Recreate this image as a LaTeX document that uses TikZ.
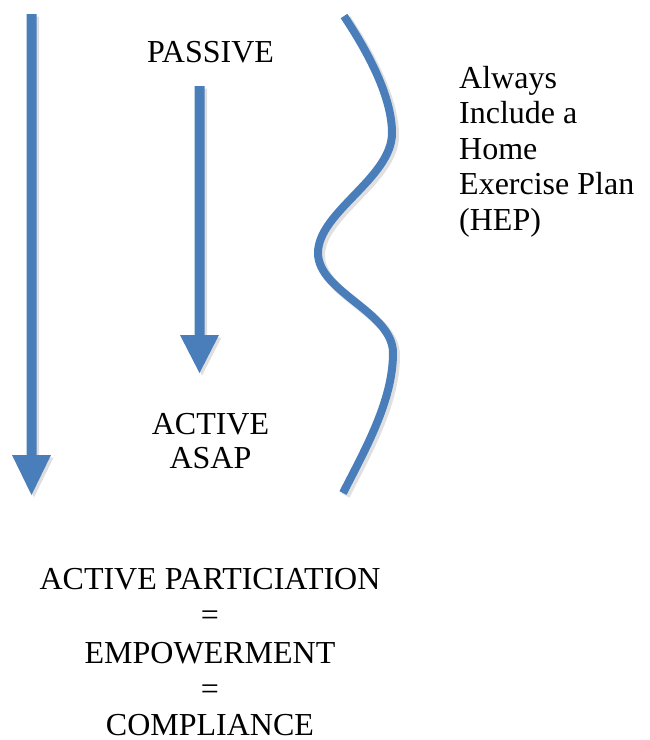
\documentclass[tikz,border=0pt]{standalone}
\usepackage{fontspec}
\setmainfont{Liberation Serif}
\begin{document}
\begin{tikzpicture}[x=1pt,y=-1pt,
  txt/.style={inner sep=0pt,anchor=base,font=\fontsize{32}{36}\selectfont},
  lefttxt/.style={txt,anchor=base west},
  blockfill/.style={fill=arrowblue},
  shadowfill/.style={fill=black,opacity=0.13},
  waveline/.style={draw=arrowblue,line width=8pt},
  waveshadow/.style={draw=black,opacity=0.12,line width=9pt}]
\definecolor{arrowblue}{HTML}{4A7EBB}
\useasboundingbox (0,0) rectangle (649,740);

% long arrow on the left
\foreach \st/\dx in {shadowfill/2.5,blockfill/0}{
  \path[\st,xshift=\dx pt,yshift=-\dx pt]
    (26.5,14) -- (36.5,14) -- (36.5,455) -- (51,455) -- (31.5,495)
    -- (12,455) -- (26.5,455) -- cycle;
}

% short arrow from PASSIVE to ACTIVE
\foreach \st/\dx in {shadowfill/2.5,blockfill/0}{
  \path[\st,xshift=\dx pt,yshift=-\dx pt]
    (194.5,86) -- (204.5,86) -- (204.5,335) -- (219,335) -- (199.5,373)
    -- (180,335) -- (194.5,335) -- cycle;
}

% wavy line
\def\wavepath{(344,16) .. controls (372,58) and (392,100) .. (392,133)
  .. controls (392,178) and (318,212) .. (318,253)
  .. controls (318,292) and (393,312) .. (393,353)
  .. controls (393,400) and (366,448) .. (343,493)}
\draw[waveshadow,xshift=2.5pt,yshift=-2.5pt] \wavepath;
\draw[waveline] \wavepath;

% labels
\node[txt] (passive) at (210.5,62) {PASSIVE};
\node[txt] (active) at (210.5,434) {ACTIVE};
\node[txt] (asap) at (210.5,468.5) {ASAP};

\node[lefttxt] (l1) at (459,88) {Always};
\node[lefttxt] (l2) at (459,123.5) {Include a};
\node[lefttxt] (l3) at (459,159) {Home};
\node[lefttxt] (l4) at (459,194.5) {Exercise Plan};
\node[lefttxt] (l5) at (459,230) {(HEP)};

\node[txt] (ap) at (210,589.5) {ACTIVE PARTICIATION};
\node[txt] (eq1) at (210,625.5) {=};
\node[txt] (emp) at (210,663) {EMPOWERMENT};
\node[txt] (eq2) at (210,699) {=};
\node[txt] (comp) at (210,735) {COMPLIANCE};
\end{tikzpicture}
\end{document}
